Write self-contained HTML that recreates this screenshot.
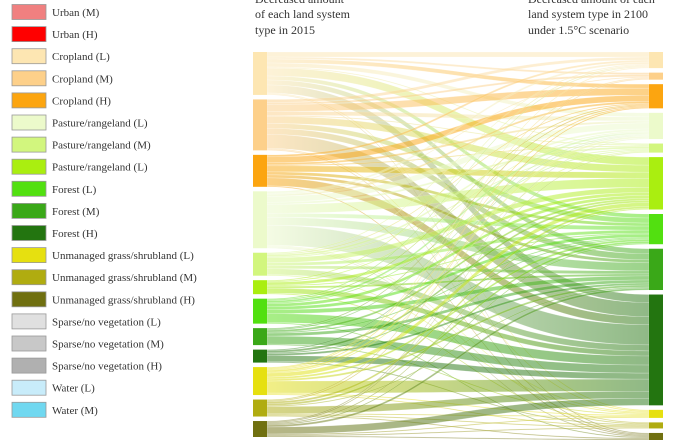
<!DOCTYPE html>
<html><head><meta charset="utf-8"><style>
body{margin:0;background:#fff;width:686px;height:440px;overflow:hidden;font-family:"Liberation Serif",serif;}
svg{display:block}
</style></head><body>
<svg id="c" width="686" height="440" xmlns="http://www.w3.org/2000/svg">
<defs id="defs"></defs>
<g id="legend"></g>
<g id="links"></g>
<g id="nodes"></g>
<text x="255" y="3" font-size="12" fill="#333"><tspan x="255" dy="0">Decreased amount</tspan><tspan x="255" dy="15">of each land system</tspan><tspan x="255" dy="16">type in 2015</tspan></text>
<text x="528" y="3" font-size="12" fill="#333"><tspan x="528" dy="0">Decreased amount of each</tspan><tspan x="528" dy="15">land system type in 2100</tspan><tspan x="528" dy="16">under 1.5°C scenario</tspan></text>
</svg>
<script>
const legendLabels=["Urban (M)","Urban (H)","Cropland (L)","Cropland (M)","Cropland (H)","Pasture/rangeland (L)","Pasture/rangeland (M)","Pasture/rangeland (L)","Forest (L)","Forest (M)","Forest (H)","Unmanaged grass/shrubland (L)","Unmanaged grass/shrubland (M)","Unmanaged grass/shrubland (H)","Sparse/no vegetation (L)","Sparse/no vegetation (M)","Sparse/no vegetation (H)","Water (L)","Water (M)"];
const legendColors=["#f08080","#ff0000","#fde6b2","#fdd08a","#fca510","#ecfacb","#d2f67e","#aaee10","#52e010","#3aa818","#237510","#e6e010","#b0ac10","#707010","#e0e0e0","#c8c8c8","#b0b0b0","#c8ecfa","#70d8f0"];
const nodes=["CL","CM","CH","PL","PM","PH","FL","FM","FH","UL","UM","UH"];
const nodeColors=["#fde6b2","#fdd08a","#fca510","#ecfacb","#d2f67e","#aaee10","#52e010","#3aa818","#237510","#e6e010","#b0ac10","#707010"];
const flows=[
[5,2,4,4,1,8,4,5,8,1,0,1],
[3,2,7,4,1,7,5,6,14,1,0,1],
[2,0,6,2,1,6,3,3,8,0,0,1],
[2,1,2,6,2,9,4,8,20,1,1,1],
[1,0,1,2,1,5,3,3,6,1,0,0],
[1,0,0,1,0,3,1,2,5,0,1,0],
[1,0,1,2,1,3,3,4,9,0,0,1],
[0,0,1,1,0,2,1,3,8,1,0,0],
[0,0,0,1,0,2,1,2,6,0,1,0],
[1,1,1,2,1,4,2,2,12,1,1,0],
[0,1,1,0,0,2,2,1,7,1,1,1],
[0,0,0,1,1,1,1,2,7,1,1,1]];
const NS="http://www.w3.org/2000/svg";
function mk(t,a,p){const e=document.createElementNS(NS,t);for(const k in a)e.setAttribute(k,a[k]);p.appendChild(e);return e;}
const lg=document.getElementById('legend');
legendLabels.forEach((l,i)=>{const y=12+i*22.1;
const r=mk('rect',{x:12,y:y-7.5,width:34,height:15,fill:legendColors[i],stroke:'#999','stroke-width':0.8},lg);


const t=mk('text',{x:52,y:y+4,'font-size':11,fill:'#333'},lg);t.textContent=l;

});
const n=nodes.length;
const lv=nodes.map((_,i)=>flows[i].reduce((a,b)=>a+b,0));
const rv=nodes.map((_,j)=>flows.reduce((a,r)=>a+r[j],0));
const gap=4.5;
function scaleSide(vals,y0,y1){const tot=vals.reduce((a,b)=>a+b,0);const k=(y1-y0-gap*(vals.length-1))/tot;let y=y0;return {k,pos:vals.map(v=>{const p=y;y+=v*k+gap;return p;})};}
const L=scaleSide(lv,52,437), R=scaleSide(rv,52,440);
const xL=253,xR=649,w=14;
const defs=document.getElementById('defs'),lk=document.getElementById('links'),nd=document.getElementById('nodes');
const lOff=L.pos.slice(), rOff=R.pos.slice();
for(let i=0;i<n;i++){for(let j=0;j<n;j++){const v=flows[i][j];if(!v)continue;
const h1=v*L.k,h2=v*R.k;const y1=lOff[i],y2=rOff[j];lOff[i]+=h1;rOff[j]+=h2;
const gid='g'+i+'_'+j;const g=mk('linearGradient',{id:gid,x1:0,x2:1,y1:0,y2:0},defs);
mk('stop',{offset:'0','stop-color':nodeColors[i]},g);mk('stop',{offset:'1','stop-color':nodeColors[j]},g);
const a=xL+w,b=xR,m=(a+b)/2;
const d=`M${a},${y1}C${m},${y1} ${m},${y2} ${b},${y2}L${b},${y2+h2}C${m},${y2+h2} ${m},${y1+h1} ${a},${y1+h1}Z`;
const p=mk('path',{d,fill:`url(#${gid})`,opacity:0.5,stroke:'#fff','stroke-width':0.4,'stroke-opacity':0.5},lk);

}}
for(let i=0;i<n;i++){
const a=mk('rect',{x:xL,y:L.pos[i],width:w,height:lv[i]*L.k,fill:nodeColors[i]},nd);


const b=mk('rect',{x:xR,y:R.pos[i],width:w,height:rv[i]*R.k,fill:nodeColors[i]},nd);

}
</script>
</body></html>
